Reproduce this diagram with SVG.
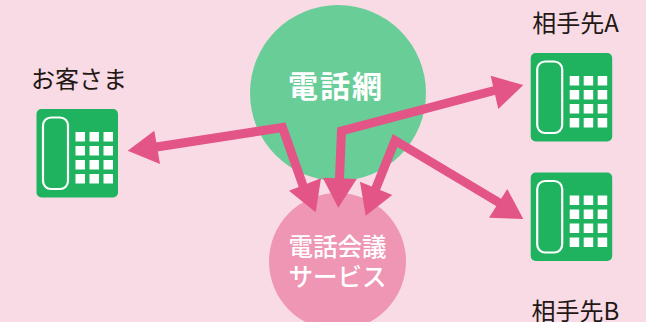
<svg xmlns="http://www.w3.org/2000/svg" width="646" height="322" viewBox="0 0 646 322">
<defs>
<style>
text{font-family:"Noto Sans CJK JP","Noto Sans",sans-serif}
.lab{font-size:24px;fill:#231815;text-anchor:middle}
.w{fill:#fff;text-anchor:middle}
.line{fill:none;stroke:#e35487;stroke-width:9;stroke-linejoin:miter;stroke-miterlimit:8}
.head{fill:#e35487}
</style>
<g id="phone">
<rect x="0" y="0" width="81.5" height="88.5" rx="5" fill="#1fb35f"/>
<rect x="6.5" y="8.5" width="25" height="71.5" rx="8" fill="none" stroke="#fff" stroke-width="2.2"/>
<g fill="#fff">
<rect x="39" y="23" width="9.5" height="9.5"/><rect x="53" y="23" width="9.5" height="9.5"/><rect x="67" y="23" width="9.5" height="9.5"/>
<rect x="39" y="37" width="9.5" height="9.5"/><rect x="53" y="37" width="9.5" height="9.5"/><rect x="67" y="37" width="9.5" height="9.5"/>
<rect x="39" y="51" width="9.5" height="9.5"/><rect x="53" y="51" width="9.5" height="9.5"/><rect x="67" y="51" width="9.5" height="9.5"/>
<rect x="39" y="65" width="9.5" height="9.5"/><rect x="53" y="65" width="9.5" height="9.5"/><rect x="67" y="65" width="9.5" height="9.5"/>
</g>
</g>
</defs>
<rect width="646" height="322" fill="#f9dbe6"/>
<g id="network"><circle cx="338" cy="93" r="88" fill="#69cd98"/>
<text class="w" x="336" y="97" font-size="30" font-weight="700" letter-spacing="2">電話網</text></g>
<g id="service"><circle cx="337.500" cy="261.500" r="68.500" fill="#ee96b4"/>
<text class="w" x="337.500" y="256" font-size="24.500" font-weight="500">電話会議</text>
<text class="w" x="337.500" y="286" font-size="24.500" font-weight="500">サービス</text></g>
<g id="customer"><text class="lab" x="79" y="88">お客さま</text><use href="#phone" x="36.500" y="109"/></g>
<g id="partner-a"><text class="lab" x="575.500" y="32">相手先A</text><use href="#phone" x="530.700" y="53"/></g>
<g id="partner-b"><text class="lab" x="575.500" y="320">相手先B</text><use href="#phone" x="530.700" y="172.500"/></g>
<g id="connectors">
<polyline class="line" points="150,148 282.500,127.500 307,197"/>
<polygon class="head" points="127.700,150.700 154.300,130.700 160,164"/>
<polygon class="head" points="315.700,212.300 289,190.700 321,178.300"/>
<polyline class="line" points="500,89 341.500,131 339,190"/>
<polygon class="head" points="523.300,85 490.700,75.700 498.300,109"/>
<polygon class="head" points="338.300,207.700 322.700,177.700 356.700,179"/>
<polyline class="line" points="503,205 395,140.500 372,198"/>
<polygon class="head" points="523.300,219 507.300,189 489,217.700"/>
<polygon class="head" points="365.700,215.700 360,181.700 392.300,195"/>
</g>
</svg>
